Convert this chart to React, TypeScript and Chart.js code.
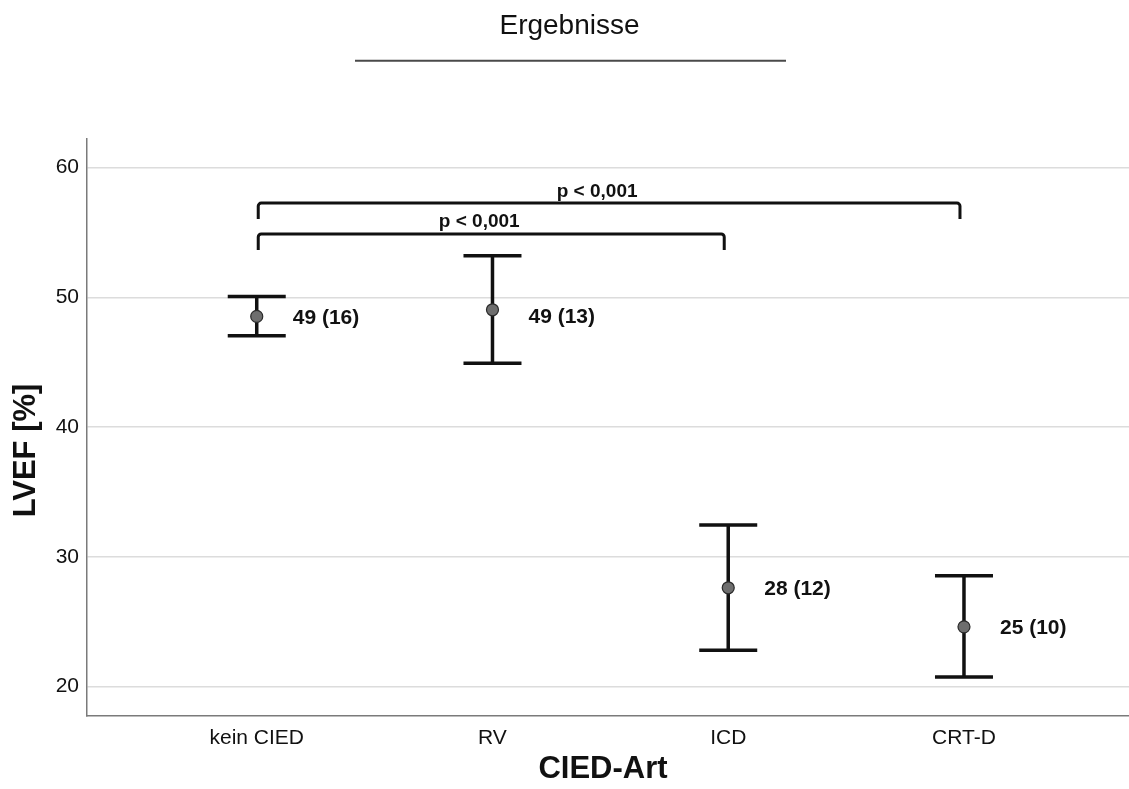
import React, { useEffect, useRef } from "react";
import { Chart, registerables } from "chart.js";

Chart.register(...registerables);

// ---- data ----
const categories = ["kein CIED", "RV", "ICD", "CRT-D"];
const means = [48.53, 49.04, 27.62, 24.61];
const upper = [50.07, 53.21, 32.45, 28.54];
const lower = [47.04, 44.93, 22.81, 20.75];
const valueLabels = ["49 (16)", "49 (13)", "28 (12)", "25 (10)"];
const valueLabelLevels = [48.5, 48.58, 27.62, 24.61];
const yTicks = [20, 30, 40, 50, 60];
const bracketFrom = [0, 0];
const bracketTo = [3, 2];
const bracketLevels = [57.26, 54.88];
const bracketLabels = ["p < 0,001", "p < 0,001"];

const chartTitle = "Ergebnisse";
const yTitle = "LVEF [%]";
const xTitle = "CIED-Art";

const FONT = "'Liberation Sans', Arial, Helvetica, sans-serif";

const decorPlugin = {
  id: "decor",
  beforeDatasetsDraw(chart: any) {
    const { ctx, scales } = chart;
    const x = scales.x;
    const y = scales.y;
    ctx.save();
    // error bars
    ctx.strokeStyle = "#111111";
    ctx.lineWidth = 3.5;
    ctx.lineCap = "butt";
    means.forEach((_m, i) => {
      const px = x.getPixelForValue(i);
      const pt = y.getPixelForValue(upper[i]);
      const pb = y.getPixelForValue(lower[i]);
      const hw = 29;
      ctx.beginPath();
      ctx.moveTo(px, pt);
      ctx.lineTo(px, pb);
      ctx.moveTo(px - hw, pt);
      ctx.lineTo(px + hw, pt);
      ctx.moveTo(px - hw, pb);
      ctx.lineTo(px + hw, pb);
      ctx.stroke();
    });
    // significance brackets
    ctx.lineWidth = 3;
    ctx.lineJoin = "round";
    bracketLevels.forEach((lv, i) => {
      const x1 = x.getPixelForValue(bracketFrom[i]) + 1.5;
      const x2 = x.getPixelForValue(bracketTo[i]) - 4;
      const py = y.getPixelForValue(lv);
      const drop = 16;
      const r = 3;
      ctx.beginPath();
      ctx.moveTo(x1, py + drop);
      ctx.lineTo(x1, py + r);
      ctx.arcTo(x1, py, x1 + r, py, r);
      ctx.lineTo(x2 - r, py);
      ctx.arcTo(x2, py, x2, py + r, r);
      ctx.lineTo(x2, py + drop);
      ctx.stroke();
      ctx.fillStyle = "#111111";
      ctx.font = `bold 19px ${FONT}`;
      ctx.textAlign = "center";
      ctx.textBaseline = "alphabetic";
      ctx.fillText(bracketLabels[i], (x1 + x2) / 2 - 12, py - 6.5);
    });
    ctx.restore();
  },
  afterDatasetsDraw(chart: any) {
    const { ctx, scales } = chart;
    const x = scales.x;
    const y = scales.y;
    ctx.save();
    ctx.fillStyle = "#111111";
    ctx.font = `bold 21px ${FONT}`;
    ctx.textAlign = "left";
    ctx.textBaseline = "middle";
    valueLabels.forEach((t, i) => {
      ctx.fillText(t, x.getPixelForValue(i) + 36, y.getPixelForValue(valueLabelLevels[i]) + 1);
    });
    ctx.restore();
  },
  afterDraw(chart: any) {
    const { ctx, chartArea } = chart;
    ctx.save();
    ctx.fillStyle = "#111111";
    // main title
    ctx.font = `28px ${FONT}`;
    ctx.textAlign = "center";
    ctx.textBaseline = "alphabetic";
    ctx.fillText(chartTitle, 569.5, 33.5);
    ctx.strokeStyle = "#4a4a4a";
    ctx.lineWidth = 2;
    ctx.beginPath();
    ctx.moveTo(355, 60.7);
    ctx.lineTo(786, 60.7);
    ctx.stroke();
    // x title
    ctx.font = `bold 31px ${FONT}`;
    ctx.fillText(xTitle, (chartArea.left + chartArea.right) / 2 - 5, 777.5);
    // y title
    ctx.translate(35, 450.5);
    ctx.rotate(-Math.PI / 2);
    ctx.fillText(yTitle, 0, 0);
    ctx.restore();
  },
};

export default function App() {
  const ref = useRef<HTMLCanvasElement | null>(null);
  useEffect(() => {
    if (!ref.current) return;
    const chart = new Chart(ref.current, {
      type: "scatter",
      data: {
        datasets: [
          {
            label: "LVEF",
            data: means.map((m, i) => ({ x: i, y: m })),
            pointRadius: 6,
            pointHoverRadius: 6,
            backgroundColor: "#6e6e6e",
            borderColor: "#2a2a2a",
            borderWidth: 1.2,
          },
        ],
      },
      options: {
        responsive: false,
        animation: false,
        devicePixelRatio: 1,
        layout: { autoPadding: false, padding: { top: 139, left: 0, right: 0, bottom: 0 } },
        plugins: {
          legend: { display: false },
          tooltip: { enabled: false },
          title: { display: false },
        },
        scales: {
          x: {
            type: "linear",
            min: -0.72,
            max: 3.7,
            grid: { display: false, drawTicks: false },
            border: { display: true, color: "#7a7a7a", width: 1.5 },
            afterBuildTicks: (scale: any) => {
              scale.ticks = categories.map((_c, i) => ({ value: i }));
            },
            afterFit: (scale: any) => {
              scale.height = 73;
              scale.paddingLeft = 0;
              scale.paddingRight = 0;
            },
            ticks: {
              autoSkip: false,
              maxRotation: 0,
              minRotation: 0,
              padding: 10,
              color: "#111111",
              font: { family: FONT, size: 21 },
              callback: (v: any) => categories[Math.round(Number(v))] ?? "",
            },
          },
          y: {
            type: "linear",
            min: 17.74,
            max: 62.2,
            grid: { color: "#dcdcdc", lineWidth: 1.5, drawTicks: false },
            border: { display: true, color: "#7a7a7a", width: 1.5 },
            afterBuildTicks: (scale: any) => {
              scale.ticks = yTicks.map((v) => ({ value: v }));
            },
            afterFit: (scale: any) => {
              scale.width = 87;
              scale.paddingTop = 0;
              scale.paddingBottom = 0;
            },
            ticks: {
              padding: 8,
              color: "#111111",
              font: { family: FONT, size: 21 },
              callback: (v: any) => String(v),
            },
          },
        },
      },
      plugins: [decorPlugin],
    });
    return () => chart.destroy();
  }, []);
  return (
    <div style={{ position: "absolute", left: 0, top: 0, width: 1129, height: 789, background: "#ffffff" }}>
      <canvas ref={ref} width={1129} height={789} style={{ display: "block" }} />
    </div>
  );
}
